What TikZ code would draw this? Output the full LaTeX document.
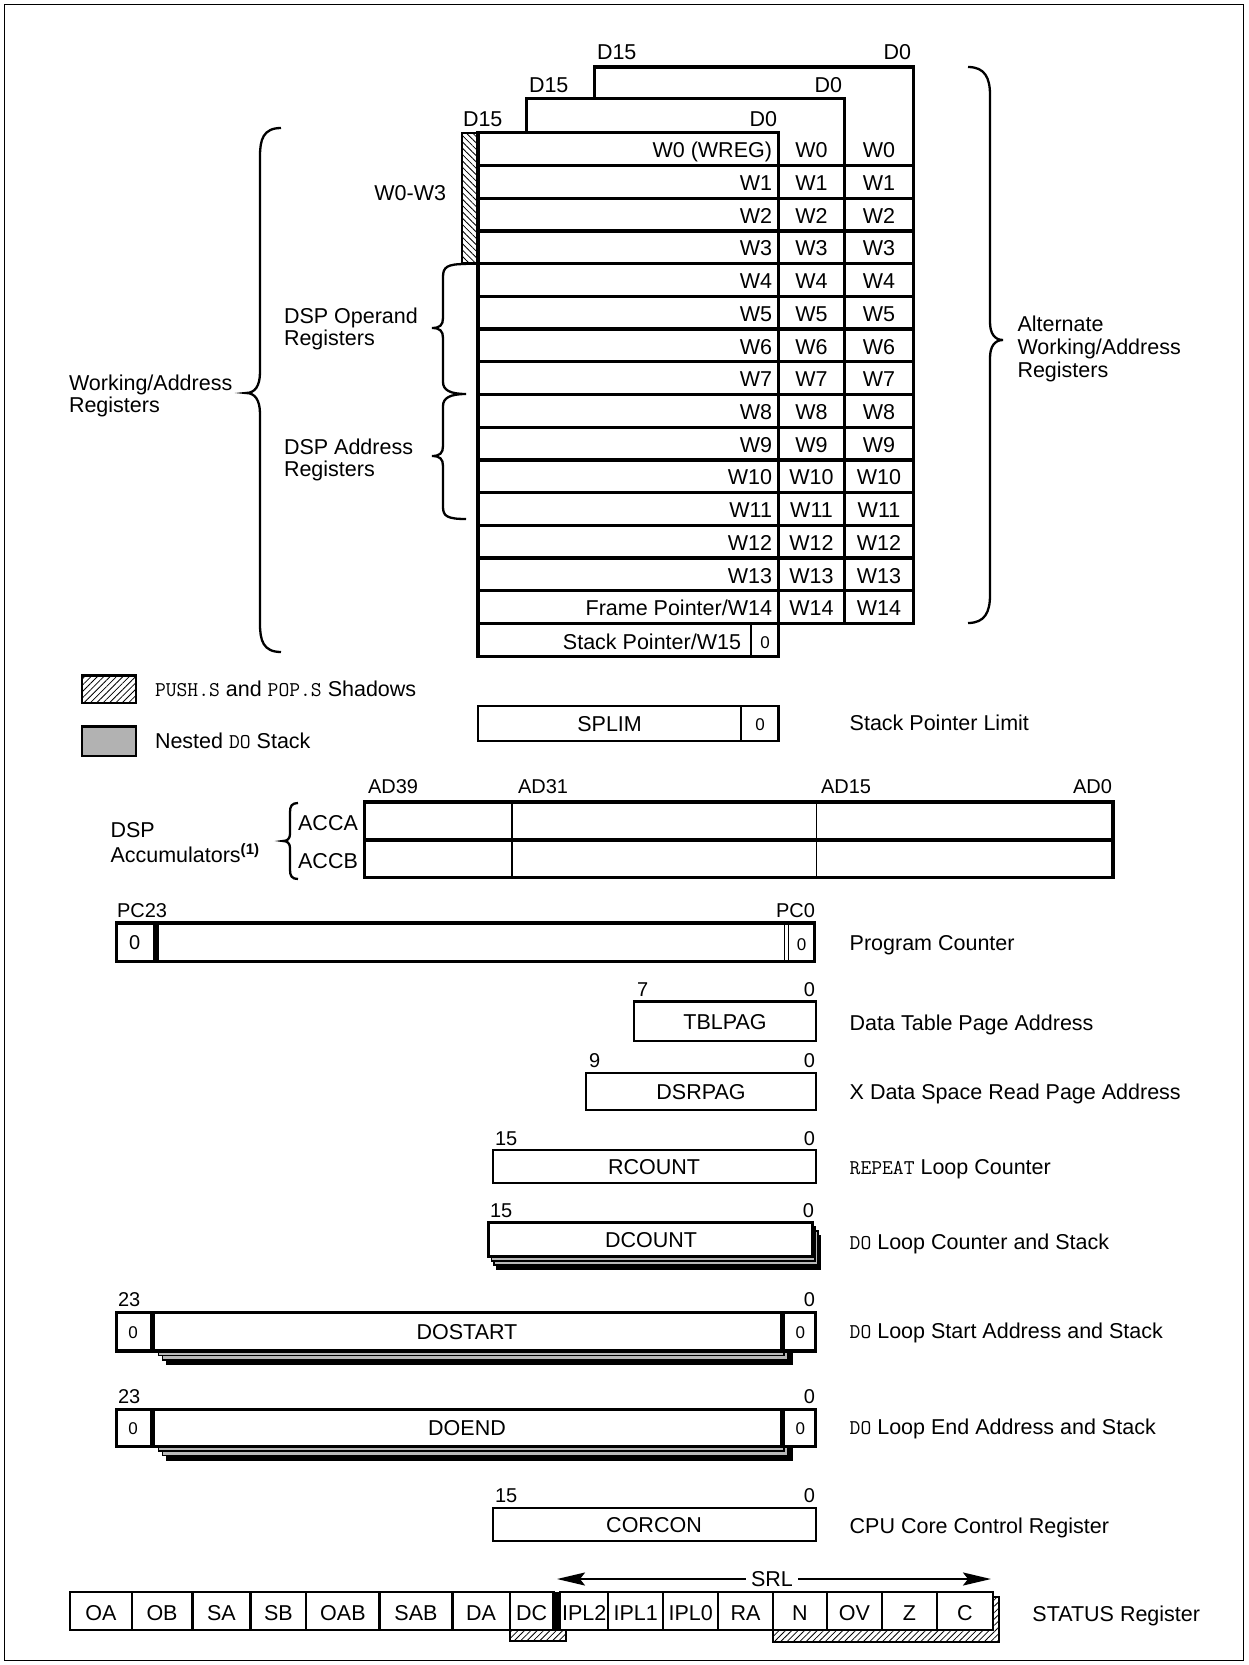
\documentclass[tikz,border=0pt]{standalone}
\usepackage{fontspec}
\setmainfont{Liberation Sans}
\usetikzlibrary{patterns.meta,arrows.meta}
\newcommand\regmono[1]{{\fontsize{21}{22}\selectfont\ttfamily #1}}
\begin{document}
\begin{tikzpicture}[x=1pt,y=-1pt,
  every node/.style={inner sep=0pt,outer sep=0pt,font=\fontsize{21.5}{22.5}\selectfont},
  tk/.style={line width=3.2pt},
  md/.style={line width=2.3pt},
  tn/.style={line width=1.2pt},
  sm/.style={font=\fontsize{17}{18}\selectfont},
  bit/.style={font=\fontsize{20}{21}\selectfont},
  hatchR/.style={pattern={Lines[angle=45,distance=4.5pt,line width=0.8pt]}},
  hatchL/.style={pattern={Lines[angle=-45,distance=4.5pt,line width=0.8pt]}},
  stk/.style={fill=gray!55,draw=black,line width=1.5pt},
  stkb/.style={fill=black,draw=black,line width=1.5pt},
  side/.style={anchor=base west},
]
\useasboundingbox (0,0) rectangle (1248,1665);
\draw[line width=1.5pt] (4.5,4.5) rectangle (1243.5,1660.5);

% ---------------- working register block ----------------
\draw[tk,fill=white] (594.8,66.9) rectangle (913.4,623.5);
\draw[tk,fill=white] (526.8,98.8) rectangle (844.4,623.5);
\draw[tk,fill=white] (478,132.8) rectangle (778.5,623.5);
\foreach \i in {1,...,14}
  \draw[tk] (478,{132.8+32.71*\i}) -- (913.4,{132.8+32.71*\i});
\draw[md,hatchL] (462,132.8) rectangle (478,263.6);
\draw[tk] (478,623.5) rectangle (778.5,656.4);
\draw[md] (751,623.5) -- (751,656.4);

\node[anchor=base west] (d15c) at (597,59) {D15};
\node[anchor=base east] (d0c) at (911,59) {D0};
\node[anchor=base west] (d15b) at (529,92) {D15};
\node[anchor=base east] (d0b) at (842,92) {D0};
\node[anchor=base west] (d15a) at (463,126) {D15};
\node[anchor=base east] (d0a) at (777,126) {D0};

\foreach \t [count=\i from 0] in {W0 (WREG),W1,W2,W3,W4,W5,W6,W7,W8,W9,W10,W11,W12,W13,Frame Pointer/W14}
  \node[anchor=base east] (wa\i) at (772,{132.8+32.71*\i+25}) {\t};
\foreach \i in {0,...,14}{
  \node[anchor=base] (wb\i) at (811.5,{132.8+32.71*\i+25}) {W\i};
  \node[anchor=base] (wc\i) at (879,{132.8+32.71*\i+25}) {W\i};
}
\node[anchor=base east] (w15) at (741,649.5) {Stack Pointer/W15};
\node[sm,anchor=base] (w15z) at (765,648) {0};

% braces
\draw[md] (281,128) .. controls (263,128) and (260,140) .. (260,156) -- (260,372)
  .. controls (260,386) and (255,393) .. (246,393)
  .. controls (255,393) and (260,400) .. (260,414) -- (260,624)
  .. controls (260,640) and (263,652) .. (281,652);
\draw[md] (466,264) .. controls (447,264) and (443,267) .. (443,277) -- (443,318)
  .. controls (443,325) and (440,328) .. (432,328)
  .. controls (440,328) and (443,331) .. (443,338) -- (443,382)
  .. controls (443,390) and (450,394) .. (466,394)
  .. controls (450,394) and (443,398) .. (443,406) -- (443,446)
  .. controls (443,453) and (440,456) .. (432,456)
  .. controls (440,456) and (443,459) .. (443,466) -- (443,507)
  .. controls (443,516) and (447,519) .. (466,519);
\draw[md] (968,67) .. controls (985,67) and (990,78) .. (990,95) -- (990,322)
  .. controls (990,334) and (995,340) .. (1003,340)
  .. controls (995,340) and (990,346) .. (990,358) -- (990,595)
  .. controls (990,612) and (985,623) .. (968,623);

\node[anchor=base east] (w03) at (446,200) {W0-W3};
\node[side] (dspo1) at (284,323) {DSP Operand};
\node[side] (dspo2) at (284,345.5) {Registers};
\node[side] (dspa1) at (284,454) {DSP Address};
\node[side] (dspa2) at (284,476.5) {Registers};
\node[side] (wa1l) at (69,390) {Working/Address};
\node[side] (wa2l) at (69,412.5) {Registers};
\node[side] (alt1) at (1017.5,331) {Alternate};
\node[side] (alt2) at (1017.5,354) {Working/Address};
\node[side] (alt3) at (1017.5,377) {Registers};

% ---------------- legend ----------------
\draw[md,hatchR] (82,675.5) rectangle (136,703);
\node[side] (lg1) at (155,696.5) {\regmono{PUSH.S} and \regmono{POP.S} Shadows};
\draw[md,fill=gray!60] (82,726.5) rectangle (136,756);
\node[side] (lg2) at (155,748) {Nested \regmono{DO} Stack};

% ---------------- SPLIM ----------------
\draw[md] (478,706) rectangle (778.5,741);
\draw[md] (741.3,706) -- (741.3,741);
\node[anchor=base] (splim) at (609.6,731.5) {SPLIM};
\node[sm,anchor=base] (splimz) at (760,730.5) {0};
\node[side] (splimt) at (849.7,730) {Stack Pointer Limit};

% ---------------- accumulators ----------------
\node[bit,anchor=base west] (ad39) at (368,793) {AD39};
\node[bit,anchor=base west] (ad31) at (518,793) {AD31};
\node[bit,anchor=base west] (ad15) at (821,793) {AD15};
\node[bit,anchor=base east] (ad0) at (1112,793) {AD0};
\draw[tk] (364.3,801.9) rectangle (1113,877.3);
\draw[tk] (364.3,840) -- (1113,840);
\draw[tn] (512,801.9) -- (512,877.3);
\draw[tn] (816.8,801.9) -- (816.8,877.3);
\node[anchor=base] (acca) at (328,830.5) {ACCA};
\node[anchor=base] (accb) at (328,868) {ACCB};
\draw[md] (298,803) .. controls (292,803) and (290,806) .. (290,812) -- (290,834)
  .. controls (290,839) and (287,841) .. (283,841)
  .. controls (287,841) and (290,843) .. (290,848) -- (290,870)
  .. controls (290,876) and (292,879) .. (298,879);
\node[side] (dspacc1) at (110.5,837.5) {DSP};
\node[side] (dspacc2) at (110.5,862) {Accumulators\textsuperscript{\bfseries (1)}};

% ---------------- program counter ----------------
\node[bit,anchor=base west] (pc23) at (117,917) {PC23};
\node[bit,anchor=base east] (pc0) at (815,917) {PC0};
\draw[tk] (116.8,923) rectangle (814.6,961.2);
\fill (152.7,923) rectangle (158.5,961.2);
\draw[tn] (784.5,923) -- (784.5,961.2);
\draw[tn] (788.5,923) -- (788.5,961.2);
\node[bit,anchor=base] (pcz1) at (134.7,949) {0};
\node[sm,anchor=base] (pcz2) at (801.5,950) {0};
\node[side] (pct) at (849.7,950) {Program Counter};

% ---------------- TBLPAG ----------------
\node[bit,anchor=base west] (tb7) at (637,996) {7};
\node[bit,anchor=base east] (tb0) at (815,996) {0};
\draw[md] (634,1001.6) rectangle (815.7,1040.9);
\node[anchor=base] (tbl) at (725,1029.5) {TBLPAG};
\node[side] (tblt) at (849.7,1030.5) {Data Table Page Address};

% ---------------- DSRPAG ----------------
\node[bit,anchor=base west] (ds9) at (589,1067.5) {9};
\node[bit,anchor=base east] (ds0) at (815,1067.5) {0};
\draw[md] (586.3,1072.7) rectangle (815.7,1110);
\node[anchor=base] (dsr) at (701,1099.5) {DSRPAG};
\node[side] (dsrt) at (849.7,1099.5) {X Data Space Read Page Address};

% ---------------- RCOUNT ----------------
\node[bit,anchor=base west] (rc15) at (495,1145.5) {15};
\node[bit,anchor=base east] (rc0) at (815,1145.5) {0};
\draw[md] (492.8,1150.3) rectangle (815.7,1183.2);
\node[anchor=base] (rc) at (654,1174) {RCOUNT};
\node[side] (rct) at (849.7,1174) {\regmono{REPEAT} Loop Counter};

% ---------------- DCOUNT ----------------
\node[bit,anchor=base west] (dc15) at (490,1217.5) {15};
\node[bit,anchor=base east] (dc0) at (814,1217.5) {0};
\draw[stkb] ({488.6+8.1},{1222.5+12.9}) rectangle ({812.5+8.1},{1256.5+12.9});
\foreach \k in {2,1}
  \draw[stk] ({488.6+2.7*\k},{1222.5+4.3*\k}) rectangle ({812.5+2.7*\k},{1256.5+4.3*\k});
\draw[tk,fill=white] (488.6,1222.5) rectangle (812.5,1256.5);
\node[anchor=base] (dcnt) at (651,1247) {DCOUNT};
\node[side] (dct) at (849.7,1249.5) {\regmono{DO} Loop Counter and Stack};

% ---------------- DOSTART ----------------
\node[bit,anchor=base west] (dst23) at (118,1306) {23};
\node[bit,anchor=base east] (dst0) at (815,1306) {0};
\draw[stkb] ({154.5+12},{1312.7+13.5}) rectangle ({780+12},{1351+13.5});
\foreach \k in {2,1}
  \draw[stk] ({154.5+4*\k},{1312.7+4.5*\k}) rectangle ({780+4*\k},{1351+4.5*\k});
\draw[tk,fill=white] (116.8,1312.7) rectangle (815.7,1351);
\fill (149.5,1312.7) rectangle (154.5,1351);
\fill (780,1312.7) rectangle (785,1351);
\node[sm,anchor=base] (dstz1) at (133,1338) {0};
\node[sm,anchor=base] (dstz2) at (800.4,1338) {0};
\node[anchor=base] (dst) at (467,1339.5) {DOSTART};
\node[side] (dstt) at (849.7,1338.5) {\regmono{DO} Loop Start Address and Stack};

% ---------------- DOEND ----------------
\node[bit,anchor=base west] (den23) at (118,1403) {23};
\node[bit,anchor=base east] (den0) at (815,1403) {0};
\draw[stkb] ({154.5+12},{1409.4+13.5}) rectangle ({780+12},{1446.6+13.5});
\foreach \k in {2,1}
  \draw[stk] ({154.5+4*\k},{1409.4+4.5*\k}) rectangle ({780+4*\k},{1446.6+4.5*\k});
\draw[tk,fill=white] (116.8,1409.4) rectangle (815.7,1446.6);
\fill (149.5,1409.4) rectangle (154.5,1446.6);
\fill (780,1409.4) rectangle (785,1446.6);
\node[sm,anchor=base] (denz1) at (133,1434.5) {0};
\node[sm,anchor=base] (denz2) at (800.4,1434.5) {0};
\node[anchor=base] (den) at (467,1435.5) {DOEND};
\node[side] (dent) at (849.7,1434) {\regmono{DO} Loop End Address and Stack};

% ---------------- CORCON ----------------
\node[bit,anchor=base west] (cc15) at (495,1502.5) {15};
\node[bit,anchor=base east] (cc0) at (815,1502.5) {0};
\draw[md] (492.8,1508) rectangle (815.7,1541);
\node[anchor=base] (cc) at (654,1532.5) {CORCON};
\node[side] (cct) at (849.7,1533) {CPU Core Control Register};

% ---------------- STATUS ----------------
\draw[md,hatchR] (509.8,1630) rectangle (566,1641);
\draw[md,hatchR] (773,1630) -- (773,1642) -- (999,1642) -- (999,1597) -- (993,1597) -- (993,1630) -- cycle;
\foreach \a/\b/\t in {70/131.7/OA,131.7/192.4/OB,192.4/250.5/SA,250.5/306.3/SB,306.3/379.5/OAB,379.5/452.5/SAB,452.5/509.8/DA,509.8/553.5/DC,560/608.3/IPL2,608.3/663/IPL1,663/718.3/IPL0,718.3/773/RA,773/827/N,827/882/OV,882/936.7/Z,936.7/993/C}{
  \draw[md,fill=white] (\a,1592) rectangle (\b,1630);
  \node[anchor=base] (st-\t) at ({(\a+\b)/2},1620) {\t};
}
\fill (553.5,1592) rectangle (560,1630);
\coordinate (srlL) at (557,1579);
\coordinate (srlR) at (991,1579);
\draw[md,{Stealth[length=28pt,width=13pt,inset=5pt]}-{Stealth[length=28pt,width=13pt,inset=5pt]}] (srlL) -- (srlR);
\node[anchor=base,fill=white,inner xsep=5pt,inner ysep=2pt] (srl) at (772,1586) {SRL};
\node[side] (stt) at (1032.4,1621) {STATUS Register};
\end{tikzpicture}
\end{document}
